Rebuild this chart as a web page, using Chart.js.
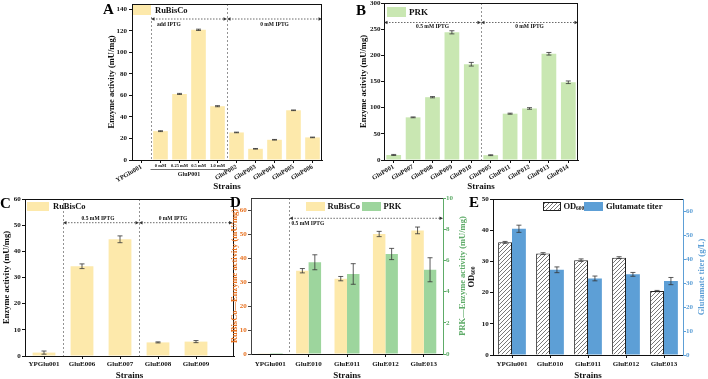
<!DOCTYPE html>
<html>
<head>
<meta charset="utf-8">
<script src="https://cdn.jsdelivr.net/npm/chart.js@4.4.1/dist/chart.umd.min.js"></script>
<style>
html,body{margin:0;padding:0;background:#fff;overflow:hidden;}
#wrap{position:relative;width:708px;height:379px;overflow:hidden;}
#wrap canvas{position:absolute;left:0;top:0;}
</style>
</head>
<body>
<div id="wrap">
  <canvas id="chartA" width="708" height="384"></canvas>
  <canvas id="chartB" width="708" height="384"></canvas>
  <canvas id="chartC" width="708" height="384"></canvas>
  <canvas id="chartD" width="708" height="384"></canvas>
  <canvas id="chartE" width="708" height="384"></canvas>
</div>
<script>
// ===== Data =====
const aStrains = ['YPGlu001','GluP001','GluP001','GluP001','GluP001','GluP002','GluP003','GluP004','GluP005','GluP006'];
const aIptg = ['','0 mM','0.25 mM','0.5 mM','1.0 mM','','','','',''];
const aRubisco = [0, 26.8, 61.4, 121, 50, 25.6, 10.4, 18.8, 46.2, 21];
const aRubiscoErr = [0, 0.4, 0.5, 0.6, 0.5, 0.3, 0.3, 0.3, 0.3, 0.3];
const aTicks = [0, 20, 40, 60, 80, 100, 120, 140];

const bStrains = ['GluP001','GluP007','GluP008','GluP009','GluP010','GluP005','GluP011','GluP012','GluP013','GluP014'];
const bPrk = [9.6, 81.5, 120, 244, 183, 9.2, 88.5, 98.5, 203, 148.5];
const bPrkErr = [1, 0.8, 1.2, 3, 3.5, 0.8, 1, 1.5, 2.5, 2.5];
const bTicks = [0, 50, 100, 150, 200, 250, 300];

const cStrains = ['YPGlu001','GluE006','GluE007','GluE008','GluE009'];
const cRubisco = [1.3, 34.3, 44.6, 5.2, 5.5];
const cRubiscoErr = [0.6, 0.9, 1.3, 0.2, 0.4];
const cTicks = [0, 10, 20, 30, 40, 50, 60];

const dStrains = ['YPGlu001','GluE010','GluE011','GluE012','GluE013'];
const dRubisco = [0.3, 34.7, 31.4, 50, 51.5];
const dRubiscoErr = [0, 0.9, 0.9, 1.1, 1.4];
const dPrk = [0.06, 5.88, 5.13, 6.41, 5.4];
const dPrkErr = [0, 0.48, 0.66, 0.36, 0.77];
const dTicksL = [0, 10, 20, 30, 40, 50, 60];
const dTicksR = [0, 2, 4, 6, 8, 10];

const eStrains = ['YPGlu001','GluE010','GluE011','GluE012','GluE013'];
const eOd = [36.1, 32.5, 30.4, 31.2, 20.5];
const eOdErr = [0.3, 0.3, 0.4, 0.3, 0.2];
const eTiter = [52.6, 35.5, 31.9, 33.6, 30.8];
const eTiterErr = [1.5, 1.2, 1, 0.8, 1.5];
const eTicksL = [0, 10, 20, 30, 40, 50];
const eTicksR = [0, 10, 20, 30, 40, 50, 60];

// ===== Styles =====
const SERIF = "'Liberation Serif', 'Times New Roman', serif";
const YELLOW = '#fde9ab';
const LIGHTGREEN = '#c9e7b2';
const GREEN = '#9dd59d';
const BLUE = '#5d9fd6';
const ORANGE = '#e8711f';
const DGREEN = '#5eab68';
const W = 708, H = 384;

Chart.defaults.font.family = SERIF;
Chart.defaults.font.weight = 'bold';
Chart.defaults.color = '#111';
Chart.defaults.animation = false;
Chart.defaults.responsive = false;
Chart.defaults.plugins.legend.display = false;
Chart.defaults.plugins.tooltip.enabled = false;

// ===== Helpers =====
function fitTo(size) {
  return s => {
    if (s.isHorizontal()) s.height = size; else s.width = size;
    s.paddingTop = 0; s.paddingBottom = 0; s.paddingLeft = 0; s.paddingRight = 0;
  };
}

function pad(g) {
  return {left: g.l - g.yl, top: g.t, right: W - g.r - (g.yr || 0), bottom: H - g.b - g.xh};
}

function leftAxis(g, ticksArr, max, title, color, titleX, labelRight, lineColor) {
  const lh = 8.5 * 1.2;
  return {
    position: 'left', min: 0, max: max,
    afterBuildTicks: s => { s.ticks = ticksArr.map(v => ({value: v})); },
    ticks: {font: {size: 7}, color: color, padding: g.l - 3 - labelRight},
    grid: {drawOnChartArea: false, tickLength: 3, color: lineColor || color},
    border: {color: lineColor || color, width: 1},
    title: {display: !!title, text: title, color: color, font: {size: 8.5}, padding: {top: titleX - (g.l - g.yl) - lh / 2, bottom: 0}},
    afterFit: fitTo(g.yl)
  };
}

function rightAxis(g, ticksArr, max, color, labelLeft) {
  return {
    position: 'right', min: 0, max: max,
    afterBuildTicks: s => { s.ticks = ticksArr.map(v => ({value: v})); },
    ticks: {font: {size: 7}, color: color, padding: labelLeft - g.r - 3},
    grid: {drawOnChartArea: false, tickLength: 3, color: color},
    border: {color: color, width: 1},
    afterFit: fitTo(g.yr)
  };
}

function bottomAxis(g, rotation, labelTop, titleY, cb) {
  const lh = 9 * 1.2;
  const ax = {
    offset: true,
    ticks: {font: {size: rotation ? 6.5 : 7}, autoSkip: false, maxRotation: rotation, minRotation: rotation, padding: labelTop - g.b - 3},
    grid: {drawOnChartArea: false, offset: false, tickLength: 3, color: '#111'},
    border: {color: '#111', width: 1},
    title: {display: true, text: 'Strains', font: {size: 9}, padding: {top: 0, bottom: (g.b + g.xh) - titleY - lh / 2}},
    afterFit: fitTo(g.xh)
  };
  if (cb) ax.ticks.callback = cb;
  return ax;
}

function txt(ctx, s, x, y, size, align, color, rot) {
  ctx.save();
  ctx.font = 'bold ' + size + 'px ' + SERIF;
  ctx.fillStyle = color || '#111';
  ctx.textAlign = align || 'left';
  ctx.textBaseline = 'middle';
  ctx.translate(x, y);
  if (rot) ctx.rotate(rot);
  ctx.fillText(s, 0, 0);
  ctx.restore();
}

function letter(ctx, s, x, y) {
  ctx.save();
  ctx.font = 'bold 15px ' + SERIF;
  ctx.fillStyle = '#000';
  ctx.textBaseline = 'alphabetic';
  ctx.fillText(s, x, y);
  ctx.restore();
}

function dashV(ctx, x, y1, y2) {
  ctx.save();
  ctx.strokeStyle = '#777'; ctx.lineWidth = 0.8; ctx.setLineDash([2, 2]);
  ctx.beginPath(); ctx.moveTo(Math.round(x) + 0.5, y1); ctx.lineTo(Math.round(x) + 0.5, y2); ctx.stroke();
  ctx.restore();
}

function arrowSeg(ctx, x1, x2, y) {
  ctx.save();
  ctx.strokeStyle = '#444'; ctx.lineWidth = 0.8; ctx.setLineDash([1.5, 1.5]);
  ctx.beginPath(); ctx.moveTo(x1 + 2, y); ctx.lineTo(x2 - 2, y); ctx.stroke();
  ctx.setLineDash([]);
  ctx.fillStyle = '#333';
  ctx.beginPath(); ctx.moveTo(x1, y); ctx.lineTo(x1 + 3.5, y - 1.8); ctx.lineTo(x1 + 3.5, y + 1.8); ctx.fill();
  ctx.beginPath(); ctx.moveTo(x2, y); ctx.lineTo(x2 - 3.5, y - 1.8); ctx.lineTo(x2 - 3.5, y + 1.8); ctx.fill();
  ctx.restore();
}

function legendBox(ctx, x, y, w, h, fill, border) {
  ctx.save();
  ctx.fillStyle = fill;
  ctx.fillRect(x, y, w, h);
  if (border) { ctx.strokeStyle = border; ctx.lineWidth = 1; ctx.strokeRect(x + 0.5, y + 0.5, w - 1, h - 1); }
  ctx.restore();
}

function sep(x, i) { return (x.getPixelForValue(i) + x.getPixelForValue(i + 1)) / 2; }

function hatch() {
  const c = document.createElement('canvas');
  c.width = 4; c.height = 4;
  const x = c.getContext('2d');
  x.fillStyle = '#fff'; x.fillRect(0, 0, 4, 4);
  x.strokeStyle = '#555'; x.lineWidth = 0.8;
  x.beginPath();
  x.moveTo(0, 4); x.lineTo(4, 0);
  x.moveTo(-1, 1); x.lineTo(1, -1);
  x.moveTo(3, 5); x.lineTo(5, 3);
  x.stroke();
  return x.createPattern(c, 'repeat');
}

// ===== Shared plugins =====
const errorBars = {
  id: 'errorBars',
  afterDatasetsDraw(chart) {
    const ctx = chart.ctx;
    chart.data.datasets.forEach((ds, i) => {
      if (!ds.errors) return;
      const meta = chart.getDatasetMeta(i);
      const sc = chart.scales[meta.yAxisID];
      meta.data.forEach((bar, j) => {
        const e = ds.errors[j];
        if (!e) return;
        const d = ds.data[j];
        const v = typeof d === 'object' ? d.y : d;
        const y1 = sc.getPixelForValue(v + e), y2 = sc.getPixelForValue(v - e);
        const x = bar.x;
        ctx.save();
        ctx.strokeStyle = '#333'; ctx.lineWidth = 0.8;
        ctx.beginPath();
        ctx.moveTo(x, y1); ctx.lineTo(x, y2);
        ctx.moveTo(x - 2.5, y1); ctx.lineTo(x + 2.5, y1);
        ctx.moveTo(x - 2.5, y2); ctx.lineTo(x + 2.5, y2);
        ctx.stroke();
        ctx.restore();
      });
    });
  }
};

const frame = {
  id: 'frame',
  afterDraw(chart, args, opts) {
    const {ctx, chartArea: a} = chart;
    ctx.save();
    ctx.strokeStyle = opts.color || '#111'; ctx.lineWidth = 1;
    ctx.beginPath();
    ctx.moveTo(a.left, Math.round(a.top) + 0.5);
    ctx.lineTo(a.right, Math.round(a.top) + 0.5);
    if (!opts.noRight) {
      ctx.moveTo(Math.round(a.right) - 0.5, a.top);
      ctx.lineTo(Math.round(a.right) - 0.5, a.bottom);
    }
    ctx.stroke();
    ctx.restore();
  }
};
Chart.register(errorBars, frame);

// ===== Panel A =====
const gA = {l: 132, t: 4, r: 322, b: 160, yl: 30, xh: 32};
new Chart(document.getElementById('chartA'), {
  type: 'bar',
  data: {
    labels: aStrains,
    datasets: [{label: 'RuBisCo', data: aRubisco, errors: aRubiscoErr, backgroundColor: YELLOW, categoryPercentage: 1, barPercentage: 0.77}]
  },
  options: {
    layout: {padding: pad(gA)},
    scales: {
      x: bottomAxis(gA, 30, 163, 187, (v, i) => aIptg[i] ? '' : aStrains[i]),
      y: leftAxis(gA, aTicks, 145, 'Enzyme activity (mU/mg)', '#111', 112, 127)
    }
  },
  plugins: [{
    id: 'annotA',
    afterDatasetsDraw(chart) {
      const {ctx, chartArea: a, scales: {x}} = chart;
      const s1 = sep(x, 0), s2 = sep(x, 4);
      dashV(ctx, s1, 17, a.bottom);
      dashV(ctx, s2, a.top, a.bottom);
      legendBox(ctx, 133, 5, 18, 10, YELLOW);
      txt(ctx, chart.data.datasets[0].label, 155, 10.5, 8.5);
      arrowSeg(ctx, s1, s2, 19);
      arrowSeg(ctx, s2, a.right, 19);
      txt(ctx, 'add IPTG', 157, 24.5, 5.5);
      txt(ctx, '0 mM IPTG', (s2 + a.right) / 2, 24.5, 5.5, 'center');
      // sub labels for GluP001 IPTG levels
      let first = null, last = null;
      aIptg.forEach((t, i) => {
        if (!t) return;
        const px = x.getPixelForValue(i);
        if (first === null) first = px;
        last = px;
        txt(ctx, t, px, 166, 4.5, 'center');
      });
      ctx.save();
      ctx.strokeStyle = '#333'; ctx.lineWidth = 0.7;
      ctx.beginPath(); ctx.moveTo(first - 10, 169.5); ctx.lineTo(last + 10, 169.5); ctx.stroke();
      ctx.restore();
      txt(ctx, aStrains[1], (first + last) / 2, 174.5, 6, 'center');
      letter(ctx, 'A', 103, 14);
    }
  }]
});

// ===== Panel B =====
const gB = {l: 384, t: 3, r: 578, b: 160, yl: 28, xh: 32};
new Chart(document.getElementById('chartB'), {
  type: 'bar',
  data: {
    labels: bStrains,
    datasets: [{label: 'PRK', data: bPrk, errors: bPrkErr, backgroundColor: LIGHTGREEN, categoryPercentage: 1, barPercentage: 0.76}]
  },
  options: {
    layout: {padding: pad(gB)},
    scales: {
      x: bottomAxis(gB, 30, 163, 187),
      y: leftAxis(gB, bTicks, 300, 'Enzyme activity (mU/mg)', '#111', 364, 380.5)
    }
  },
  plugins: [{
    id: 'annotB',
    afterDatasetsDraw(chart) {
      const {ctx, chartArea: a, scales: {x}} = chart;
      const s1 = sep(x, 4);
      dashV(ctx, s1, a.top, a.bottom);
      legendBox(ctx, 387, 7, 19, 10, LIGHTGREEN);
      txt(ctx, chart.data.datasets[0].label, 409, 12.5, 9);
      arrowSeg(ctx, a.left, s1, 22.5);
      arrowSeg(ctx, s1, a.right, 22.5);
      txt(ctx, '0.5 mM IPTG', (a.left + s1) / 2, 26.5, 5.5, 'center');
      txt(ctx, '0 mM IPTG', (s1 + a.right) / 2, 26.5, 5.5, 'center');
      letter(ctx, 'B', 356, 15);
    }
  }]
});

// ===== Panel C (x runs to half a slot past the last strain) =====
const gC = {l: 25, t: 199, r: 234, b: 356, yl: 25, xh: 28};
const cX = bottomAxis(gC, 0, 359.5, 375.5, v => cStrains[v] || '');
Object.assign(cX, {
  type: 'linear', min: -0.5, max: 5, offset: false,
  afterBuildTicks: s => { s.ticks = cStrains.map((_, i) => ({value: i})); }
});
new Chart(document.getElementById('chartC'), {
  type: 'bar',
  data: {
    datasets: [{label: 'RuBisCo', data: cRubisco.map((v, i) => ({x: i, y: v})), errors: cRubiscoErr, backgroundColor: YELLOW, categoryPercentage: 1, barPercentage: 0.6}]
  },
  options: {
    layout: {padding: pad(gC)},
    scales: {
      x: cX,
      y: leftAxis(gC, cTicks, 60, 'Enzyme activity (mU/mg)', '#111', 6.5, 20.7)
    }
  },
  plugins: [{
    id: 'annotC',
    afterDatasetsDraw(chart) {
      const {ctx, chartArea: a, scales: {x}} = chart;
      const s1 = sep(x, 0), s2 = sep(x, 2);
      dashV(ctx, s1, a.top, a.bottom);
      dashV(ctx, s2, a.top, a.bottom);
      legendBox(ctx, 27, 202, 22, 9, YELLOW);
      txt(ctx, chart.data.datasets[0].label, 53, 207, 8.5);
      arrowSeg(ctx, s1, s2, 222.7);
      arrowSeg(ctx, s2, a.right - 1.5, 222.7);
      txt(ctx, '0.5 mM IPTG', (s1 + s2) / 2 - 3, 218.3, 5.5, 'center');
      txt(ctx, '0 mM IPTG', sep(x, 3) - 4, 218.3, 5.5, 'center');
      letter(ctx, 'C', 0, 208);
    }
  }]
});

// ===== Panel D =====
const gD = {l: 251, t: 198, r: 443, b: 354, yl: 22, yr: 25, xh: 30};
new Chart(document.getElementById('chartD'), {
  type: 'bar',
  data: {
    labels: dStrains,
    datasets: [
      {label: 'RuBisCo', data: dRubisco, errors: dRubiscoErr, backgroundColor: YELLOW, yAxisID: 'y', categoryPercentage: 0.65, barPercentage: 1},
      {label: 'PRK', data: dPrk, errors: dPrkErr, backgroundColor: GREEN, yAxisID: 'y1', categoryPercentage: 0.65, barPercentage: 1}
    ]
  },
  options: {
    layout: {padding: pad(gD)},
    scales: {
      x: bottomAxis(gD, 0, 359.5, 375.5),
      y: leftAxis(gD, dTicksL, 65, 'RuBisCo\u2014Enzyme activity (mU/mg)', ORANGE, 235, 246.7, '#444'),
      y1: rightAxis(gD, dTicksR, 10, DGREEN, 446)
    },
    plugins: {frame: {noRight: true, color: '#333'}}
  },
  plugins: [{
    id: 'annotD',
    afterDatasetsDraw(chart) {
      const {ctx, chartArea: a, scales: {x}} = chart;
      const s1 = sep(x, 0);
      dashV(ctx, s1, a.top, a.bottom);
      const ds = chart.data.datasets;
      legendBox(ctx, 306, 202, 19, 9, ds[0].backgroundColor);
      txt(ctx, ds[0].label, 327.5, 206.5, 8.5);
      legendBox(ctx, 362, 202, 19, 9, ds[1].backgroundColor);
      txt(ctx, ds[1].label, 383.5, 206.5, 8.5);
      arrowSeg(ctx, s1, a.right, 218.3);
      txt(ctx, '0.5 mM IPTG', s1 + 2, 223.3, 5.5);
      txt(ctx, 'PRK\u2014Enzyme activity (mU/mg)', 462.7, (a.top + a.bottom) / 2, 8.5, 'center', DGREEN, -Math.PI / 2);
      letter(ctx, 'D', 230, 207);
    }
  }]
});

// ===== Panel E =====
const gE = {l: 493, t: 199, r: 683, b: 355, yl: 27, yr: 24, xh: 29};
const odFill = hatch();
new Chart(document.getElementById('chartE'), {
  type: 'bar',
  data: {
    labels: eStrains,
    datasets: [
      {label: 'OD', data: eOd, errors: eOdErr, backgroundColor: odFill, borderColor: '#222', borderWidth: 1, yAxisID: 'y', categoryPercentage: 0.73, barPercentage: 1},
      {label: 'Glutamate titer', data: eTiter, errors: eTiterErr, backgroundColor: BLUE, yAxisID: 'y1', categoryPercentage: 0.73, barPercentage: 1}
    ]
  },
  options: {
    layout: {padding: pad(gE)},
    scales: {
      x: bottomAxis(gE, 0, 359.5, 375.5),
      y: leftAxis(gE, eTicksL, 50, '', '#111', 472, 488.7),
      y1: rightAxis(gE, eTicksR, 65, BLUE, 686)
    },
    plugins: {frame: {noRight: true}}
  },
  plugins: [{
    id: 'annotE',
    afterDatasetsDraw(chart) {
      const {ctx, chartArea: a} = chart;
      const ds = chart.data.datasets;
      legendBox(ctx, 543, 202, 18, 9, ds[0].backgroundColor, '#222');
      txt(ctx, 'OD', 563.5, 206.5, 8.5);
      txt(ctx, '600', 576, 208.5, 5.5);
      legendBox(ctx, 584, 202, 19, 9, ds[1].backgroundColor);
      txt(ctx, ds[1].label, 606, 206.5, 8.5);
      // left title OD600 with subscript
      const cy = (a.top + a.bottom) / 2;
      ctx.save();
      ctx.translate(472, cy);
      ctx.rotate(-Math.PI / 2);
      ctx.font = 'bold 8.5px ' + SERIF;
      const w1 = ctx.measureText('OD').width;
      ctx.font = 'bold 5.5px ' + SERIF;
      const w2 = ctx.measureText('600').width;
      ctx.fillStyle = '#111';
      ctx.textBaseline = 'middle';
      ctx.font = 'bold 8.5px ' + SERIF;
      ctx.fillText('OD', -(w1 + w2) / 2, 0);
      ctx.font = 'bold 5.5px ' + SERIF;
      ctx.fillText('600', -(w1 + w2) / 2 + w1, 2);
      ctx.restore();
      txt(ctx, 'Glutamate titer (g/L)', 702, cy, 8.5, 'center', BLUE, -Math.PI / 2);
      letter(ctx, 'E', 469, 207);
    }
  }]
});
</script>
</body>
</html>
